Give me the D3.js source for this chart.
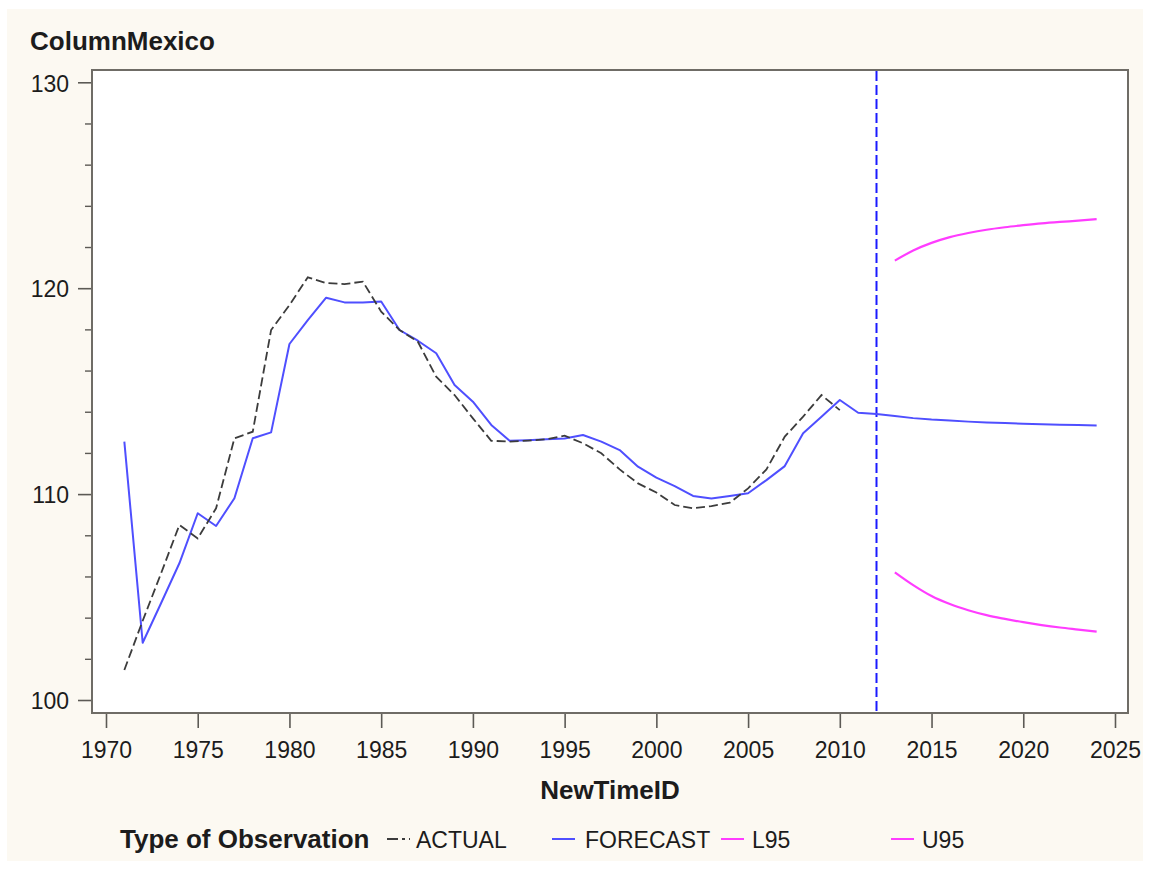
<!DOCTYPE html>
<html>
<head>
<meta charset="utf-8">
<script src="https://cdn.jsdelivr.net/npm/d3@7"></script>
<style>
  html, body { margin: 0; padding: 0; background: #ffffff; }
  svg { display: block; font-family: "Liberation Sans", Arial, sans-serif; }
</style>
</head>
<body>
<svg id="chart" width="1149" height="870"></svg>
<script>
// Observed series
const actualYears = d3.range(1971, 2011);
const actualValues = [
  101.46, 103.85, 106.15, 108.50, 107.85, 109.31, 112.71, 113.03, 117.97, 119.18,
  120.53, 120.25, 120.20, 120.32, 118.86, 117.97, 117.40, 115.70, 114.81, 113.68,
  112.59, 112.55, 112.60, 112.66, 112.84, 112.47, 111.98, 111.20, 110.52, 110.08,
  109.47, 109.31, 109.42, 109.58, 110.28, 111.20, 112.79, 113.76, 114.81, 114.08
];

// One-step-ahead fit and forecast
const forecastYears = d3.range(1971, 2025);
const forecastValues = [
  112.55, 102.78, 104.70, 106.64, 109.07, 108.45, 109.80, 112.71, 113.00, 117.29,
  118.45, 119.54, 119.31, 119.30, 119.35, 117.97, 117.45, 116.84, 115.30, 114.49,
  113.36, 112.59, 112.62, 112.66, 112.70, 112.87, 112.55, 112.14, 111.33, 110.80,
  110.39, 109.91, 109.79, 109.91, 110.04, 110.68, 111.36, 112.95, 113.76, 114.57,
  113.95, 113.89, 113.79, 113.69, 113.62, 113.57, 113.52, 113.48, 113.45, 113.42,
  113.39, 113.37, 113.35, 113.33
];

// 95% confidence limits for the forecast horizon
const limitYears = d3.range(2013, 2025);
const l95Values = [106.20, 105.58, 105.05, 104.66, 104.36, 104.12, 103.94, 103.78, 103.64, 103.52, 103.42, 103.32];
const u95Values = [121.34, 121.83, 122.20, 122.48, 122.68, 122.84, 122.96, 123.06, 123.15, 123.22, 123.28, 123.35];

// Axis ticks and reference line
const xTicks = d3.range(1970, 2026, 5);
const yMajorTicks = [100, 110, 120, 130];
const yMinorTicks = d3.range(100, 131, 2).filter(v => v % 10 !== 0);
const forecastStart = 2012;

const legendItems = [
  { label: "ACTUAL", color: "#3c3c3c", dash: "11,4,3,4", x: 387, tx: 416 },
  { label: "FORECAST", color: "#4f4fff", dash: null, x: 552, tx: 585 },
  { label: "L95", color: "#ff3cff", dash: null, x: 721, tx: 752 },
  { label: "U95", color: "#ff3cff", dash: null, x: 891, tx: 922 }
];

const svg = d3.select("#chart");
const frame = { left: 92, right: 1128, top: 70, bottom: 713 };

// backgrounds
svg.append("rect").attr("x", 7).attr("y", 9).attr("width", 1136).attr("height", 852)
  .attr("fill", "#fcf9f2");
svg.append("rect")
  .attr("x", frame.left).attr("y", frame.top)
  .attr("width", frame.right - frame.left).attr("height", frame.bottom - frame.top)
  .attr("fill", "#ffffff");

const x = d3.scaleLinear().domain([1969.237, 2025.709]).range([frame.left, frame.right]);
const y = d3.scaleLinear().domain([99.369, 130.597]).range([frame.bottom, frame.top]);

const tickColor = "#5c5a55";
const textColor = "#1c1c1c";

// x axis
const gx = svg.append("g").attr("transform", `translate(0,${frame.bottom})`)
  .call(d3.axisBottom(x).tickValues(xTicks).tickFormat(d3.format("d")).tickSize(15).tickSizeOuter(0));
gx.select(".domain").remove();
gx.selectAll("line").attr("stroke", tickColor).attr("stroke-width", 1.6);
gx.selectAll("text").attr("y", 45).attr("dy", 0)
  .attr("font-size", 23).attr("fill", textColor).attr("font-family", "Liberation Sans, Arial, sans-serif");

// y axis: minor then major ticks
const gyMinor = svg.append("g").attr("transform", `translate(${frame.left},0)`)
  .call(d3.axisLeft(y).tickValues(yMinorTicks).tickFormat("").tickSize(7).tickSizeOuter(0));
gyMinor.select(".domain").remove();
gyMinor.selectAll("line").attr("stroke", tickColor).attr("stroke-width", 1.4);

const gy = svg.append("g").attr("transform", `translate(${frame.left},0)`)
  .call(d3.axisLeft(y).tickValues(yMajorTicks).tickFormat(d3.format("d")).tickSize(14).tickSizeOuter(0));
gy.select(".domain").remove();
gy.selectAll("line").attr("stroke", tickColor).attr("stroke-width", 1.6);
gy.selectAll("text").attr("x", -23).attr("dy", "0.38em")
  .attr("font-size", 23).attr("fill", textColor).attr("font-family", "Liberation Sans, Arial, sans-serif");

// plot frame
svg.append("rect")
  .attr("x", frame.left).attr("y", frame.top)
  .attr("width", frame.right - frame.left).attr("height", frame.bottom - frame.top)
  .attr("fill", "none").attr("stroke", "#6f6c66").attr("stroke-width", 2);

svg.append("clipPath").attr("id", "plotclip").append("rect")
  .attr("x", frame.left).attr("y", frame.top)
  .attr("width", frame.right - frame.left).attr("height", frame.bottom - frame.top);

const plot = svg.append("g").attr("clip-path", "url(#plotclip)");

// forecast start reference line
plot.append("line")
  .attr("x1", x(forecastStart)).attr("x2", x(forecastStart))
  .attr("y1", frame.top + 1).attr("y2", frame.bottom - 1)
  .attr("stroke", "#1a1aff").attr("stroke-width", 2).attr("stroke-dasharray", "10,4");

const line = d3.line().x(d => x(d[0])).y(d => y(d[1]));
const smooth = d3.line().curve(d3.curveMonotoneX).x(d => x(d[0])).y(d => y(d[1]));
const zip = (a, b) => a.map((v, i) => [v, b[i]]);

plot.append("path").datum(zip(limitYears, l95Values))
  .attr("d", smooth).attr("fill", "none").attr("stroke", "#ff3cff").attr("stroke-width", 2.2);
plot.append("path").datum(zip(limitYears, u95Values))
  .attr("d", smooth).attr("fill", "none").attr("stroke", "#ff3cff").attr("stroke-width", 2.2);
plot.append("path").datum(zip(forecastYears, forecastValues))
  .attr("d", line).attr("fill", "none").attr("stroke", "#4f4fff").attr("stroke-width", 2)
  .attr("stroke-linejoin", "round");
plot.append("path").datum(zip(actualYears, actualValues))
  .attr("d", line).attr("fill", "none").attr("stroke", "#3c3c3c").attr("stroke-width", 1.8)
  .attr("stroke-dasharray", "9,4");

// titles
svg.append("text").attr("x", 30).attr("y", 50)
  .attr("font-size", 26).attr("font-weight", "bold").attr("fill", textColor)
  .text("ColumnMexico");
svg.append("text").attr("x", (frame.left + frame.right) / 2).attr("y", 799)
  .attr("text-anchor", "middle")
  .attr("font-size", 26).attr("font-weight", "bold").attr("fill", textColor)
  .text("NewTimeID");

// legend
const legendY = 848;
svg.append("text").attr("x", 120).attr("y", legendY)
  .attr("font-size", 26).attr("font-weight", "bold").attr("fill", textColor)
  .text("Type of Observation");
const lg = svg.append("g");
legendItems.forEach(item => {
  lg.append("line")
    .attr("x1", item.x).attr("x2", item.x + 23)
    .attr("y1", legendY - 9).attr("y2", legendY - 9)
    .attr("stroke", item.color).attr("stroke-width", 2)
    .attr("stroke-dasharray", item.dash);
  lg.append("text").attr("x", item.tx).attr("y", legendY)
    .attr("font-size", 23).attr("fill", textColor)
    .text(item.label);
});
</script>
</body>
</html>
